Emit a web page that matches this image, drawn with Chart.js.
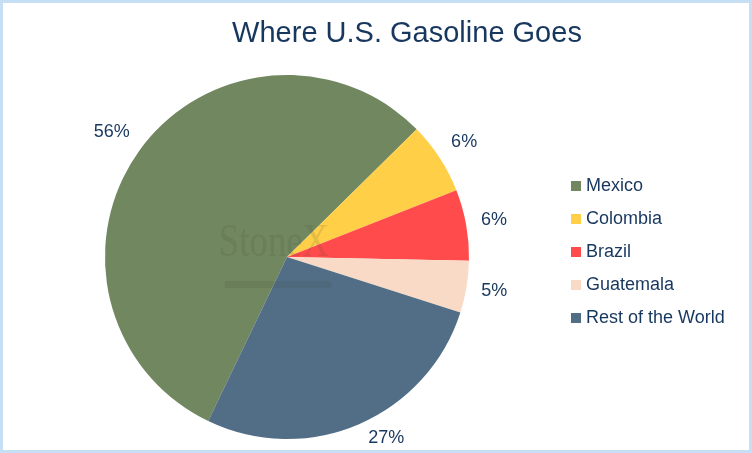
<!DOCTYPE html>
<html>
<head>
<meta charset="utf-8">
<script src="https://cdn.jsdelivr.net/npm/chart.js@4/dist/chart.umd.min.js"></script>
<style>
  html, body { margin: 0; padding: 0; background: #ffffff; }
  #wrap { width: 752px; height: 453px; position: relative; }
  canvas { display: block; }
</style>
</head>
<body>
<div id="wrap"><canvas id="c" width="752" height="453"></canvas></div>
<script>
const chartTitle = "Where U.S. Gasoline Goes";
const categories = ["Mexico", "Colombia", "Brazil", "Guatemala", "Rest of the World"];
const shares = [55.5, 6.4, 6.3, 4.6, 27.2];
const sliceColors = ["#71875F", "#FFCF48", "#FF4B4B", "#F9DAC6", "#526E87"];
const watermarkText = "StoneX";

const textColor = "#17375E";
const fontFamily = "'Liberation Sans', Arial, sans-serif";

const frameAndTitle = {
  id: "frameAndTitle",
  beforeDraw(chart) {
    const ctx = chart.ctx;
    ctx.save();
    ctx.fillStyle = "#ffffff";
    ctx.fillRect(0, 0, chart.width, chart.height);
    ctx.restore();
  },
  afterDraw(chart) {
    const ctx = chart.ctx;
    ctx.save();
    ctx.strokeStyle = "#C6DFF5";
    ctx.lineWidth = 3;
    ctx.strokeRect(1.5, 1.5, chart.width - 3, chart.height - 3);
    ctx.fillStyle = textColor;
    ctx.font = "29px " + fontFamily;
    ctx.textAlign = "center";
    ctx.textBaseline = "middle";
    ctx.fillText(chartTitle, 407, 34);
    ctx.restore();
  }
};

const watermark = {
  id: "watermark",
  afterDatasetsDraw(chart) {
    const ctx = chart.ctx;
    ctx.save();
    ctx.fillStyle = "rgba(60,70,60,0.14)";
    ctx.font = "46px 'Liberation Serif', 'DejaVu Serif', serif";
    ctx.textAlign = "center";
    ctx.textBaseline = "alphabetic";
    ctx.save();
    ctx.translate(274, 256);
    ctx.scale(0.8, 1);
    ctx.fillText(watermarkText, 0, 0);
    ctx.restore();
    ctx.fillRect(225, 281, 106, 7);
    ctx.restore();
  }
};

const outsideLabels = {
  id: "outsideLabels",
  afterDatasetsDraw(chart) {
    const ctx = chart.ctx;
    const meta = chart.getDatasetMeta(0);
    const data = chart.data.datasets[0].data;
    const h = 16;
    const bottomLimit = chart.height - 7;
    ctx.save();
    ctx.fillStyle = textColor;
    ctx.font = "18px " + fontFamily;
    ctx.textAlign = "center";
    ctx.textBaseline = "middle";
    meta.data.forEach((arc, i) => {
      const p = arc.getProps(["x", "y", "startAngle", "endAngle", "outerRadius"], true);
      const mid = (p.startAngle + p.endAngle) / 2;
      const dx = Math.cos(mid), dy = Math.sin(mid);
      const txt = Math.round(data[i]) + "%";
      const w = ctx.measureText(txt).width;
      const d = p.outerRadius + 14 + Math.abs(dx) * w / 2 + Math.abs(dy) * h / 2;
      let lx = p.x + dx * d, ly = p.y + dy * d;
      if (ly + h / 2 > bottomLimit) {
        const yy = bottomLimit - h / 2 - p.y;
        const r = d - 4;
        lx = p.x + Math.sign(dx) * Math.sqrt(Math.max(r * r - yy * yy, 0));
        ly = p.y + yy;
      }
      ctx.fillText(txt, lx, ly);
    });
    ctx.restore();
  }
};

const sideLegend = {
  id: "sideLegend",
  afterDraw(chart) {
    const ctx = chart.ctx;
    const colors = chart.data.datasets[0].backgroundColor;
    ctx.save();
    ctx.font = "18px " + fontFamily;
    ctx.textAlign = "left";
    ctx.textBaseline = "middle";
    chart.data.labels.forEach((lab, i) => {
      const y = 186 + i * 33;
      ctx.fillStyle = colors[i];
      ctx.fillRect(571, y - 5, 10, 10);
      ctx.fillStyle = textColor;
      ctx.fillText(lab, 586, y);
    });
    ctx.restore();
  }
};

new Chart(document.getElementById("c"), {
  type: "pie",
  data: {
    labels: categories,
    datasets: [{
      data: shares,
      backgroundColor: sliceColors,
      borderWidth: 0,
      hoverOffset: 0
    }]
  },
  options: {
    responsive: false,
    animation: false,
    devicePixelRatio: 1,
    events: [],
    rotation: 205.65,
    layout: { padding: { left: 105, top: 75, right: 283, bottom: 14 } },
    plugins: {
      legend: { display: false },
      title: { display: false },
      tooltip: { enabled: false }
    }
  },
  plugins: [frameAndTitle, watermark, outsideLabels, sideLegend]
});
</script>
</body>
</html>
